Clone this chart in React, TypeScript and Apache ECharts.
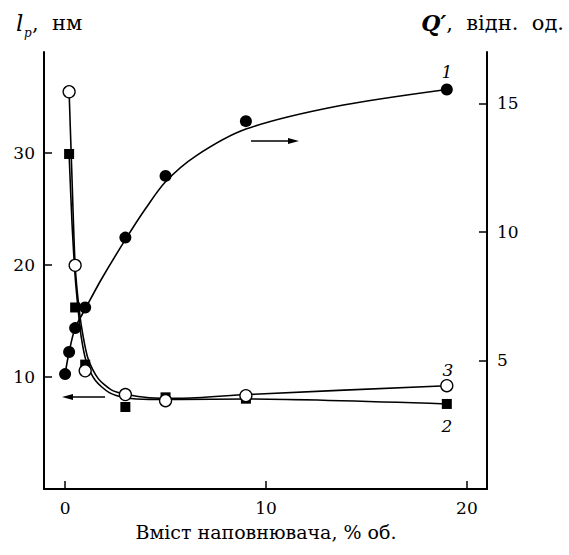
import React, { useEffect, useRef } from 'react';
import * as echarts from 'echarts';

const FONT = "'DejaVu Serif', serif";

// Curve 1 (Q', right axis) measured points
const x1 = [0, 0.2, 0.5, 1, 3, 5, 9, 19];
const q1 = [4.47, 5.33, 6.26, 7.06, 9.78, 12.18, 14.31, 15.54];
// Curve 2 (l_p, left axis) measured points — filled squares
const x2 = [0.2, 0.5, 1, 3, 5, 9, 19];
const l2 = [29.9, 16.2, 11.1, 7.32, 8.18, 8.06, 7.59];
// Curve 3 (l_p, left axis) measured points — open circles
const x3 = [0.2, 0.5, 1, 3, 5, 9, 19];
const l3 = [35.45, 19.96, 10.55, 8.43, 7.88, 8.33, 9.22];

// Fitted curves
const c1x = [0, 0.2, 0.5, 1, 1.8, 3, 4, 5, 6.5, 9, 13.4, 19];
const c1y = [4.47, 5.33, 6.26, 7.0, 8.15, 9.7, 10.9, 11.95, 12.95, 14.0, 14.87, 15.54];
const c2x = [0.2, 0.35, 0.5, 0.65, 0.8, 1.05, 1.5, 2.2, 3, 4.2, 5.7, 9, 19];
const c2y = [29.9, 23.5, 19.0, 16.0, 13.6, 11.4, 9.7, 8.6, 8.15, 8.0, 8.0, 8.03, 7.59];
const c3x = [0.2, 0.33, 0.5, 0.7, 0.9, 1.15, 1.65, 2.3, 3.07, 4.2, 5.7, 9, 19];
const c3y = [35.45, 28.5, 19.96, 16.0, 13.6, 11.6, 9.85, 8.85, 8.43, 8.15, 8.1, 8.43, 9.22];

const xTicks = [0, 10, 20];
const leftTicks = [10, 20, 30];
const rightTicks = [5, 10, 15];

const zip = (a: number[], b: number[]) => a.map((v, i) => [v, b[i]]);

export default function App() {
  const ref = useRef<HTMLDivElement>(null);
  useEffect(() => {
    const chart = echarts.init(ref.current!, null, { renderer: 'svg' });
    const axisLine = { show: true, onZero: false, lineStyle: { color: '#000', width: 2 } };
    const axisTick = (vals: number[]) => ({ show: true, inside: true, length: 8, customValues: vals, lineStyle: { color: '#000', width: 1.5 } });
    const label = (vals: number[], margin: number) => ({ customValues: vals, margin, color: '#000', fontFamily: FONT, fontSize: 17 });
    const lineS = (name: string, xs: number[], ys: number[], yi: number, sm: number) => ({
      name, type: 'line', yAxisIndex: yi, data: zip(xs, ys), smooth: sm,
      symbol: 'none', lineStyle: { color: '#000', width: 1.6 }, z: 2, silent: true,
    });
    chart.setOption({
      animation: false,
      backgroundColor: '#fff',
      grid: { left: 44, right: 82, top: 52, bottom: 66, containLabel: false },
      xAxis: {
        type: 'value', min: -1.05, max: 21,
        axisLine, axisTick: axisTick(xTicks), axisLabel: label(xTicks, 10), splitLine: { show: false },
      },
      yAxis: [
        { type: 'value', position: 'left', min: 0, max: 39, axisLine, axisTick: axisTick(leftTicks), axisLabel: label(leftTicks, 9), splitLine: { show: false } },
        { type: 'value', position: 'right', min: 0, max: 17, axisLine, axisTick: axisTick(rightTicks), axisLabel: label(rightTicks, 10), splitLine: { show: false } },
      ],
      series: [
        lineS('c1', c1x, c1y, 1, 0.3),
        lineS('c2', c2x, c2y, 0, 0.25),
        lineS('c3', c3x, c3y, 0, 0.25),
        { name: '1', type: 'scatter', yAxisIndex: 1, data: zip(x1, q1), symbol: 'circle', symbolSize: 12, itemStyle: { color: '#000', opacity: 1 }, z: 3 },
        { name: '2', type: 'scatter', yAxisIndex: 0, data: zip(x2, l2), symbol: 'rect', symbolSize: 10, itemStyle: { color: '#000', opacity: 1 }, z: 3 },
        { name: '3', type: 'scatter', yAxisIndex: 0, data: zip(x3, l3), symbol: 'circle', symbolSize: 12, itemStyle: { color: '#fff', borderColor: '#000', borderWidth: 1.3, opacity: 1 }, z: 4 },
      ],
      graphic: [
        { type: 'text', x: 16, y: 23, style: { text: 'l', fontFamily: FONT, fontStyle: 'italic', fontSize: 23, fill: '#000', verticalAlign: 'middle' } },
        { type: 'text', x: 24, y: 33, style: { text: 'p', fontFamily: FONT, fontStyle: 'italic', fontSize: 12, fill: '#000', verticalAlign: 'middle' } },
        { type: 'text', x: 32, y: 23, style: { text: ',  нм', fontFamily: FONT, fontSize: 21, fill: '#000', verticalAlign: 'middle' } },
        {
          type: 'text', x: 564, y: 23,
          style: {
            text: '{q|Q′}{n|,  відн.  од.}', align: 'right', verticalAlign: 'middle', fill: '#000',
            rich: {
              q: { fontFamily: FONT, fontStyle: 'italic', fontWeight: 'bold', fontSize: 22, fill: '#000' },
              n: { fontFamily: FONT, fontSize: 21, fill: '#000' },
            },
          },
        },
        { type: 'text', x: 266, y: 532, style: { text: 'Вміст наповнювача, % об.', fontFamily: FONT, fontSize: 19, fill: '#000', align: 'center', verticalAlign: 'middle' } },
        { type: 'text', x: 447, y: 72, style: { text: '1', fontFamily: FONT, fontStyle: 'italic', fontSize: 17, fill: '#000', align: 'center', verticalAlign: 'middle' } },
        { type: 'text', x: 448, y: 370, style: { text: '3', fontFamily: FONT, fontStyle: 'italic', fontSize: 17, fill: '#000', align: 'center', verticalAlign: 'middle' } },
        { type: 'text', x: 447, y: 426, style: { text: '2', fontFamily: FONT, fontStyle: 'italic', fontSize: 17, fill: '#000', align: 'center', verticalAlign: 'middle' } },
        { type: 'line', shape: { x1: 251, y1: 141, x2: 292, y2: 141 }, style: { stroke: '#000', lineWidth: 1.3 } },
        { type: 'polygon', shape: { points: [[299, 141], [288, 138], [288, 144]] }, style: { fill: '#000' } },
        { type: 'line', shape: { x1: 69, y1: 397, x2: 105, y2: 397 }, style: { stroke: '#000', lineWidth: 1.3 } },
        { type: 'polygon', shape: { points: [[62, 397], [73, 394], [73, 400]] }, style: { fill: '#000' } },
      ],
    });
    return () => chart.dispose();
  }, []);
  return <div ref={ref} style={{ position: 'absolute', left: 0, top: 0, width: 569, height: 555, background: '#fff' }} />;
}
